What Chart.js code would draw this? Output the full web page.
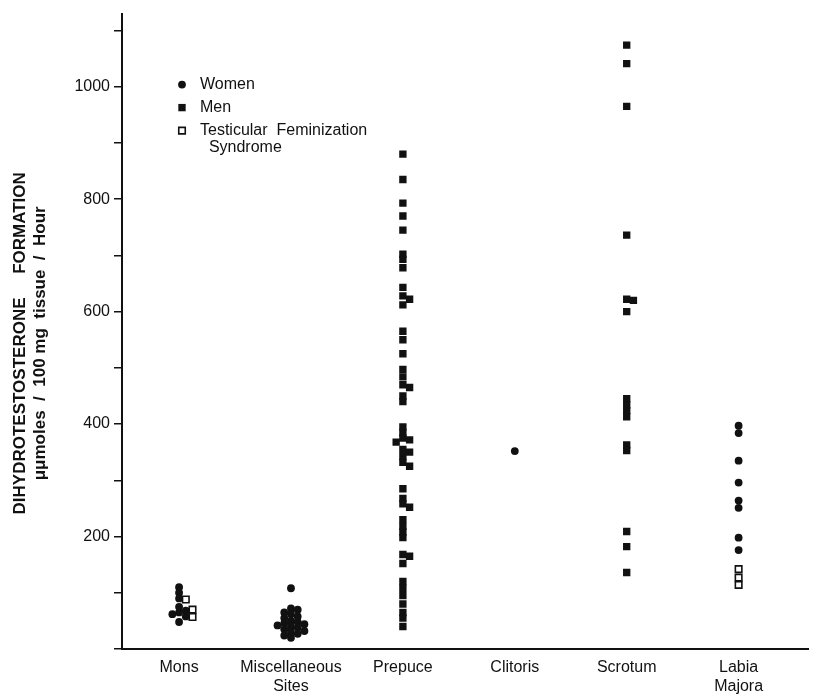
<!DOCTYPE html>
<html>
<head>
<meta charset="utf-8">
<script src="https://cdn.jsdelivr.net/npm/chart.js@4.4.0/dist/chart.umd.min.js"></script>
<style>
  html, body { margin: 0; padding: 0; background: #fff; }
  #wrap { width: 822px; height: 700px; }
</style>
</head>
<body>
<div id="wrap"><canvas id="dhtChart" width="822" height="700"></canvas></div>
<script>
// tissue sites along the x axis (multi-line labels as arrays)
const categories = [["Mons"], ["Miscellaneous", "Sites"], ["Prepuce"], ["Clitoris"], ["Scrotum"], ["Labia", "Majora"]];

// values, pmoles DHT / 100 mg tissue / hour
const womenMons = [110, 100, 90, 75, 68, 65, 62, 58, 48];
const womenMisc = [108, 72, 70, 65, 62, 58, 55, 50, 48, 46, 44, 42, 40, 38, 35, 32, 30, 27, 24, 20];
const womenClitoris = [352];
const womenLabia = [397, 384, 335, 296, 264, 251, 198, 176];
const menPrepuce = [880, 835, 793, 770, 745, 702, 693, 678, 643, 628, 622, 612,
  565, 550, 525, 497, 484, 470, 465, 450, 440,
  395, 385, 375, 372, 368, 355, 350, 342, 332, 325,
  285, 268, 258, 252, 230, 218, 208, 198, 168, 165, 152, 120, 108, 95, 80, 65, 55, 40];
const menScrotum = [1074, 1041, 965, 736, 622, 620, 600, 445, 434, 424, 413, 363, 353, 209, 182, 136];
const tfsMons = [88, 70, 57];
const tfsLabia = [142, 127, 114];

const yTicks = [0, 100, 200, 300, 400, 500, 600, 700, 800, 900, 1000, 1100];
const yTickLabels = [200, 400, 600, 800, 1000];
const yTitle = ["DIHYDROTESTOSTERONE     FORMATION", "\u03bc\u03bcmoles  /  100 mg  tissue  /  Hour"];

const womenValues = [womenMons, womenMisc, [], womenClitoris, [], womenLabia];
const menValues = [[], [], menPrepuce, [], menScrotum, []];
const tfsValues = [tfsMons, [], [], [], [], tfsLabia];

// simple beeswarm so overlapping marks sit side by side like in the print
const placed = categories.map(() => []);
const GAP = 9;
const STEP = 0.06;
function spread(cat, v) {
  const taken = placed[cat];
  for (const off of [0, 1, -1, 2, -2, 3, -3]) {
    if (!taken.some((p) => p.off === off && Math.abs(p.v - v) < GAP)) {
      taken.push({ off, v });
      return cat + off * STEP;
    }
  }
  return cat;
}
function toPoints(valuesByCat) {
  const pts = [];
  valuesByCat.forEach((vals, cat) => {
    vals.forEach((v) => pts.push({ x: spread(cat, v), y: v }));
  });
  return pts;
}

const menPoints = toPoints(menValues);
const womenPoints = toPoints(womenValues);
const tfsPoints = toPoints(tfsValues);

const FONT = '"Liberation Sans", Arial, sans-serif';
const INK = "#111";

const insetLegend = {
  id: "insetLegend",
  afterDatasetsDraw(chart) {
    const { ctx, chartArea } = chart;
    const x = chartArea.left + 60;
    const y0 = chartArea.top + 71;
    const items = [
      { ds: chart.data.datasets[0], text: ["Women"] },
      { ds: chart.data.datasets[1], text: ["Men"] },
      { ds: chart.data.datasets[2], text: ["Testicular  Feminization", "  Syndrome"] },
    ];
    ctx.save();
    ctx.font = "16px " + FONT;
    ctx.textBaseline = "middle";
    items.forEach((item, i) => {
      const y = y0 + i * 23;
      ctx.fillStyle = item.ds.backgroundColor;
      ctx.strokeStyle = item.ds.borderColor;
      ctx.lineWidth = item.ds.borderWidth;
      Chart.helpers.drawPoint(ctx, {
        pointStyle: item.ds.pointStyle,
        radius: item.ds.pointRadius,
        borderWidth: item.ds.borderWidth,
        rotation: 0,
      }, x, y);
      ctx.fillStyle = INK;
      item.text.forEach((line, j) => ctx.fillText(line, x + 18, y + j * 17));
    });
    ctx.restore();
  },
};

// two-line rotated y title, the second line set a bit larger as in the print
const yAxisTitle = {
  id: "yAxisTitle",
  afterDraw(chart) {
    const { ctx, chartArea } = chart;
    const cy = (chartArea.top + chartArea.bottom) / 2 + 12;
    ctx.save();
    ctx.fillStyle = INK;
    ctx.textAlign = "center";
    ctx.textBaseline = "middle";
    ctx.translate(0, cy);
    ctx.rotate(-Math.PI / 2);
    ctx.font = "bold 17px " + FONT;
    ctx.fillText(yTitle[0], 0, 20);
    ctx.font = "bold 17px " + FONT;
    ctx.fillText(yTitle[1], 0, 40);
    ctx.restore();
  },
};

const ctx = document.getElementById("dhtChart").getContext("2d");
new Chart(ctx, {
  type: "scatter",
  data: {
    datasets: [
      {
        label: "Women",
        data: womenPoints,
        pointStyle: "circle",
        pointRadius: 3.9,
        backgroundColor: INK,
        borderColor: INK,
        borderWidth: 0,
      },
      {
        label: "Men",
        data: menPoints,
        pointStyle: "rect",
        pointRadius: 5.2,
        backgroundColor: INK,
        borderColor: INK,
        borderWidth: 0,
      },
      {
        label: "Testicular Feminization Syndrome",
        data: tfsPoints,
        pointStyle: "rect",
        pointRadius: 4.6,
        backgroundColor: "#fff",
        borderColor: INK,
        borderWidth: 1.6,
      },
    ],
  },
  options: {
    responsive: false,
    animation: false,
    layout: { padding: { top: 13, right: 14, bottom: 0, left: 0 } },
    plugins: {
      legend: { display: false },
      tooltip: { enabled: false },
    },
    scales: {
      x: {
        type: "linear",
        min: -0.51,
        max: 5.62,
        afterBuildTicks: (scale) => {
          scale.ticks = categories.map((c, i) => ({ value: i }));
        },
        afterFit: (scale) => {
          scale.height = 51;
        },
        grid: { display: false, drawTicks: false },
        border: { display: true, color: INK, width: 2 },
        ticks: {
          autoSkip: false,
          maxRotation: 0,
          padding: 9,
          color: INK,
          font: { family: FONT, size: 16 },
          callback: (v) => categories[v] || "",
        },
      },
      y: {
        min: 0,
        max: 1130,
        afterBuildTicks: (scale) => {
          scale.ticks = yTicks.map((v) => ({ value: v }));
        },
        afterFit: (scale) => {
          scale.width = 122;
        },
        grid: {
          drawOnChartArea: false,
          drawTicks: true,
          tickLength: 8,
          color: INK,
          lineWidth: 1.5,
        },
        border: { display: true, color: INK, width: 2 },
        ticks: {
          autoSkip: false,
          padding: 4,
          color: INK,
          font: { family: FONT, size: 16 },
          callback: (v) => (yTickLabels.includes(v) ? String(v) : ""),
        },
      },
    },
  },
  plugins: [insetLegend, yAxisTitle],
});
</script>
</body>
</html>
